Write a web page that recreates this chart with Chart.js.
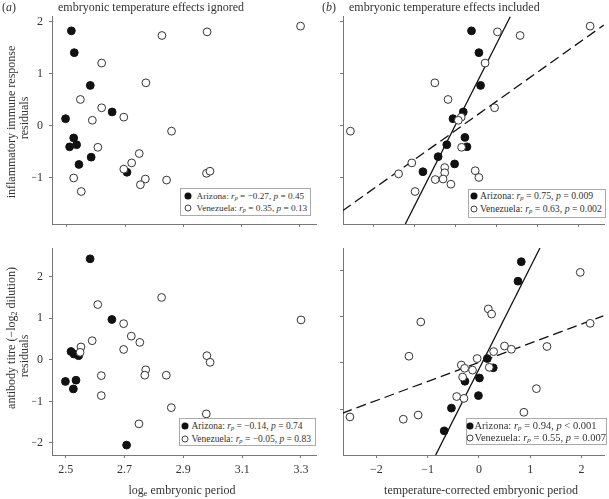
<!DOCTYPE html>
<html>
<head>
<meta charset="utf-8">
<script src="https://cdn.jsdelivr.net/npm/chart.js@4.4.1/dist/chart.umd.min.js"></script>
<style>
  body { margin: 0; background: #fff; }
  #wrap { position: relative; width: 609px; height: 499px; font-family: "Liberation Serif", "Times New Roman", serif; color: #333; }
  #wrap canvas { position: absolute; left: 0; top: 0; }
  .txt { position: absolute; font-size: 12px; line-height: 14px; white-space: nowrap; }
  .rot { transform: translate(-50%, -50%) rotate(-90deg); }
  .ctr { transform: translate(-50%, -50%); }
  sub { font-size: 0.68em; line-height: 0; vertical-align: -0.2em; }
  .legend { position: absolute; box-sizing: border-box; border: 1px solid #aaa; background: #fff; }
  .legend .lt { position: absolute; white-space: nowrap; font-size: 10px; line-height: 12px; transform: translateY(-50%); }
  .dot { position: absolute; width: 7px; height: 7px; border-radius: 50%; box-sizing: border-box; transform: translate(-50%, -50%); }
  .dot.az { background: #111; }
  .dot.ve { background: #fff; border: 1px solid #444; }
</style>
</head>
<body>
<div id="wrap">
  <canvas id="c1" width="609" height="499"></canvas>
  <canvas id="c2" width="609" height="499"></canvas>
  <canvas id="c3" width="609" height="499"></canvas>
  <canvas id="c4" width="609" height="499"></canvas>

  <div class="txt" style="left:2px;top:0px">(<i>a</i>)</div>
  <div class="txt" style="left:58px;top:0px">embryonic temperature effects ignored</div>
  <div class="txt" style="left:322px;top:0px">(<i>b</i>)</div>
  <div class="txt" style="left:349px;top:0px">embryonic temperature effects included</div>

  <div class="txt rot" style="left:11px;top:122px">inflammatory immune response</div>
  <div class="txt rot" style="left:24px;top:118px">residuals</div>
  <div class="txt rot" style="left:11px;top:338px">antibody titre (−log<sub>2</sub> dilution)</div>
  <div class="txt rot" style="left:24px;top:356px">residuals</div>

  <div class="txt ctr" style="left:182px;top:490px">log<sub>e</sub> embryonic period</div>
  <div class="txt ctr" style="left:481px;top:490px">temperature-corrected embryonic period</div>
</div>

<script>
// Data: [x, y] pairs per population and panel

// (a) top: log_e embryonic period vs inflammatory response residuals
const immuneIgnoredAZ = [[2.515,1.83],[2.525,1.41],[2.58,0.78],[2.655,0.27],[2.495,0.14],[2.523,-0.23],
  [2.509,-0.40],[2.533,-0.36],[2.541,-0.74],[2.583,-0.60],[2.706,-0.89]];
const immuneIgnoredVE = [[2.826,1.74],[2.981,1.81],[3.302,1.92],[2.619,1.21],[2.771,0.83],[2.546,0.51],
  [2.619,0.35],[2.587,0.11],[2.695,0.17],[2.859,-0.10],[2.606,-0.41],[2.748,-0.53],[2.722,-0.71],
  [2.695,-0.83],[2.769,-1.02],[2.752,-1.13],[2.842,-1.04],[2.979,-0.91],[2.991,-0.87],[2.523,-1.00],[2.549,-1.26]];

// (b) top: temperature-corrected period vs inflammatory response residuals
const immuneIncludedAZ = [[0.39,1.83],[0.57,1.41],[0.61,0.78],[0.19,0.27],[-0.06,0.14],[0.23,-0.22],
  [0.28,-0.40],[-0.21,-0.36],[-0.42,-0.59],[-0.02,-0.73],[-0.79,-0.88]];
const immuneIncludedVE = [[1.02,1.81],[1.57,1.74],[3.27,1.92],[0.72,1.21],[-0.50,0.83],[-0.18,0.51],
  [0.95,0.35],[0.14,0.17],[0.07,0.11],[-2.55,-0.10],[0.15,-0.41],[-1.06,-0.71],[-1.38,-0.92],
  [-0.26,-0.80],[-0.26,-0.90],[-0.49,-1.03],[-0.30,-1.02],[-0.11,-1.12],[0.48,-0.86],[0.57,-0.99],[-0.98,-1.26]];
const immuneFitAZ = [[-1.22,-1.89],[1.33,2.10]];
const immuneFitVE = [[-2.74,-1.63],[3.6,1.94]];

// (a) bottom: log_e embryonic period vs antibody titre residuals
const titreIgnoredAZ = [[2.583,2.43],[2.657,0.97],[2.518,0.20],[2.528,0.14],[2.544,0.10],[2.499,-0.52],
  [2.535,-0.49],[2.526,-0.70],[2.707,-2.05]];
const titreIgnoredVE = [[2.826,1.50],[2.609,1.33],[2.697,0.87],[2.723,0.57],[2.590,0.46],[2.752,0.42],
  [2.552,0.31],[2.549,0.18],[2.697,0.25],[2.980,0.10],[2.991,-0.06],[3.300,0.96],[2.772,-0.24],
  [2.769,-0.37],[2.621,-0.38],[2.842,-0.37],[2.621,-0.86],[2.859,-1.15],[2.749,-1.54],[2.978,-1.30]];

// (b) bottom: temperature-corrected period vs antibody titre residuals
const titreIncludedAZ = [[0.825,2.18],[0.761,1.76],[0.164,0.09],[0.279,-0.11],[-0.273,-0.40],[0.010,-0.33],
  [-0.010,-0.71],[-0.536,-0.98],[-0.677,-1.47]];
const titreIncludedVE = [[1.974,1.95],[2.167,0.85],[0.183,1.16],[0.247,1.05],[-1.133,0.88],[-1.364,0.14],
  [0.498,0.36],[0.632,0.29],[1.326,0.35],[0.286,0.24],[-0.035,0.09],[-0.343,-0.05],[-0.279,-0.12],
  [-0.125,-0.16],[0.202,-0.10],[-0.318,-0.31],[1.120,-0.56],[-0.434,-0.73],[-0.292,-0.77],[0.876,-1.07],
  [-2.514,-1.17],[-1.474,-1.22],[-1.185,-1.13]];
const titreFitAZ = [[-0.851,-2.01],[1.191,2.48]];
const titreFitVE = [[-2.661,-1.09],[2.424,1.01]];

// tick values
const periodTicks = [2.5, 2.7, 2.9, 3.1, 3.3];
const correctedTicksTop = [-2, -1, 0, 1, 2, 3];
const correctedTicks = [-2, -1, 0, 1, 2];
const immuneTicks = [-1, 0, 1, 2];
const titreTicks = [-2, -1, 0, 1, 2];
const titreTicksRight = [-1, 0, 1, 2];

// legend statistics text (Arizona, Venezuela) per panel
const statsImmuneIgnored = ['<i>r</i><sub><i>p</i></sub> = −0.27, <i>p</i> = 0.45', '<i>r</i><sub><i>p</i></sub> = 0.35, <i>p</i> = 0.13'];
const statsImmuneIncluded = ['<i>r</i><sub><i>p</i></sub> = 0.75, <i>p</i> = 0.009', '<i>r</i><sub><i>p</i></sub> = 0.63, <i>p</i> = 0.002'];
const statsTitreIgnored = ['<i>r</i><sub><i>p</i></sub> = −0.14, <i>p</i> = 0.74', '<i>r</i><sub><i>p</i></sub> = −0.05, <i>p</i> = 0.83'];
const statsTitreIncluded = ['<i>r</i><sub><i>p</i></sub> = 0.94, <i>p</i> &lt; 0.001', '<i>r</i><sub><i>p</i></sub> = 0.55, <i>p</i> = 0.007'];
const populations = ['Arizona', 'Venezuela'];

const FONT = '"Liberation Serif", "Times New Roman", serif';
const AXIS = '#777';
const AXW = 20, AXH = 20;

const toXY = arr => arr.map(p => ({ x: p[0], y: p[1] }));
const minus = v => String(v).replace('-', '\u2212');

function pointSet(data, filled) {
  return {
    data: toXY(data),
    pointRadius: 3.9,
    pointBackgroundColor: filled ? '#111' : '#fff',
    pointBorderColor: filled ? '#111' : '#333',
    pointBorderWidth: 1,
    order: filled ? 1 : 0
  };
}

function fitSet(data, dashed) {
  return {
    data: toXY(data),
    showLine: true,
    pointRadius: 0,
    borderColor: '#111',
    borderWidth: 1.3,
    borderDash: dashed ? [10, 5] : [],
    order: 2
  };
}

function axis(min, max, ticks, showLabels, isX, fmt) {
  return {
    type: 'linear',
    min: min,
    max: max,
    afterBuildTicks: s => { s.ticks = ticks.map(v => ({ value: v })); },
    afterFit: s => { if (isX) s.height = AXH; else s.width = AXW; },
    grid: { drawOnChartArea: false, tickLength: 3, color: AXIS },
    border: { color: AXIS, width: 1 },
    ticks: {
      display: showLabels,
      autoSkip: false,
      maxRotation: 0,
      padding: isX ? 5 : 6,
      color: '#333',
      font: { family: FONT, size: 12 },
      callback: fmt
    }
  };
}

// box = chart area [left, top, right, bottom] in page pixels
function panel(id, box, datasets, xs, ys) {
  new Chart(document.getElementById(id), {
    type: 'scatter',
    data: { datasets: datasets },
    options: {
      responsive: false,
      animation: false,
      events: [],
      layout: { padding: { left: box[0] - AXW, top: box[1], right: 609 - box[2], bottom: 499 - box[3] - AXH } },
      plugins: { legend: { display: false }, tooltip: { enabled: false } },
      scales: { x: xs, y: ys }
    }
  });
}

panel('c1', [52, 16, 316, 224],
  [pointSet(immuneIgnoredVE, false), pointSet(immuneIgnoredAZ, true)],
  axis(2.4485, 3.355, periodTicks, false, true),
  axis(-1.885, 2.115, immuneTicks, true, false, v => minus(v)));

panel('c2', [343, 16, 607, 224],
  [pointSet(immuneIncludedVE, false), pointSet(immuneIncludedAZ, true), fitSet(immuneFitAZ, false), fitSet(immuneFitVE, true)],
  axis(-2.73, 3.607, correctedTicksTop, false, true),
  axis(-1.885, 2.115, immuneTicks, false, false));

panel('c3', [52, 248, 316, 455],
  [pointSet(titreIgnoredVE, false), pointSet(titreIgnoredAZ, true)],
  axis(2.4534, 3.351, periodTicks, true, true, v => v.toFixed(1)),
  axis(-2.289, 2.69, titreTicks, true, false, v => minus(v)));

panel('c4', [343, 248, 607, 455],
  [pointSet(titreIncludedVE, false), pointSet(titreIncludedAZ, true), fitSet(titreFitAZ, false), fitSet(titreFitVE, true)],
  axis(-2.649, 2.437, correctedTicks, true, true, v => minus(v)),
  axis(-1.992, 2.476, titreTicksRight, false, false));

// Legend boxes: box [left, top, width, height], marker x, text start x, row widths, row centre y's
function legend(stats, box, dotX, textX, textW, rowY) {
  const el = document.createElement('div');
  el.className = 'legend';
  Object.assign(el.style, { left: box[0] + 'px', top: box[1] + 'px', width: box[2] + 'px', height: box[3] + 'px' });
  document.getElementById('wrap').appendChild(el);
  const spans = [];
  populations.forEach((name, i) => {
    const dot = document.createElement('span');
    dot.className = 'dot ' + (i === 0 ? 'az' : 've');
    dot.style.left = (dotX - box[0] - 1) + 'px';
    dot.style.top = (rowY[i] - box[1] - 1) + 'px';
    el.appendChild(dot);
    const t = document.createElement('span');
    t.className = 'lt';
    t.innerHTML = name + ': ' + stats[i];
    t.style.left = (textX - box[0] - 1) + 'px';
    t.style.top = (rowY[i] - box[1] - 1) + 'px';
    el.appendChild(t);
    spans.push(t);
  });
  // scale the font so both rows fit the widths seen in the figure
  const size = Math.min(...spans.map((t, i) => 10 * textW[i] / t.offsetWidth));
  spans.forEach(t => { t.style.fontSize = size.toFixed(2) + 'px'; });
}

legend(statsImmuneIgnored, [180, 188, 131, 28], 188, 196.5, [108, 111.5], [195.7, 208.3]);
legend(statsImmuneIncluded, [468, 189, 138, 29], 473.5, 480, [121.5, 122], [196, 208.5]);
legend(statsTitreIgnored, [179, 418, 137, 28], 185, 191.5, [117, 120], [426, 439]);
legend(statsTitreIncluded, [466, 418, 141, 27], 469.5, 474.5, [130, 131.5], [426, 438.3]);
</script>
</body>
</html>
